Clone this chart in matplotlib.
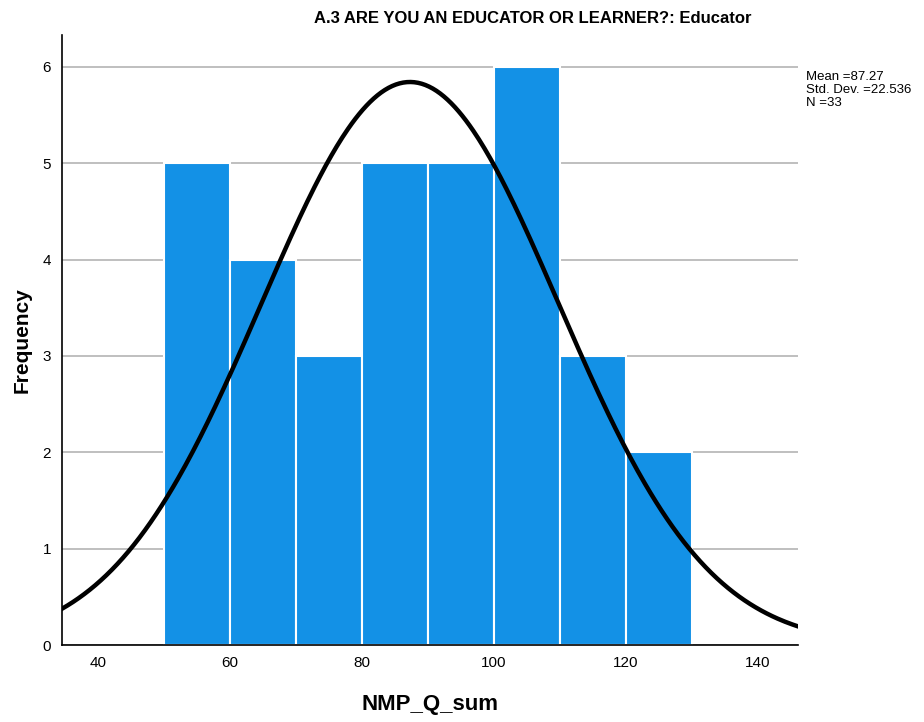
import numpy as np
import matplotlib.pyplot as plt

plt.rcParams['font.family'] = ['Liberation Sans', 'DejaVu Sans']

# histogram data
bin_edges = [50, 60, 70, 80, 90, 100, 110, 120, 130]
counts = [5, 4, 3, 5, 5, 6, 3, 2]
mean = 87.27
std = 22.536
n = 33
x_ticks = [40, 60, 80, 100, 120, 140]
y_ticks = [0, 1, 2, 3, 4, 5, 6]

fig = plt.figure(figsize=(9.24, 7.22), dpi=100)
ax = fig.add_axes([0.0671, 0.1066, 0.7965, 0.845])

ax.set_axisbelow(True)
ax.yaxis.grid(True, color='#b4b4b4', linewidth=1.2)
widths = np.diff(bin_edges)
ax.bar(bin_edges[:-1], counts, width=widths, align='edge', color='#1391e6',
       edgecolor='white', linewidth=1.5, zorder=2)

# normal curve scaled to counts
xs = np.linspace(34.5, 146.1, 400)
bw = 10
ys = n * bw / (std * np.sqrt(2 * np.pi)) * np.exp(-0.5 * ((xs - mean) / std) ** 2)
ax.plot(xs, ys, color='black', linewidth=3.2, zorder=3)

ax.set_xlim(34.5, 146.1)
ax.set_ylim(0, 6.33)
ax.set_xticks(x_ticks)
ax.set_yticks(y_ticks)
ax.tick_params(length=0, labelsize=11, pad=8)
for s in ['top', 'right']:
    ax.spines[s].set_visible(False)
ax.spines['left'].set_linewidth(1.2)
ax.spines['bottom'].set_linewidth(1.2)

ax.set_xlabel('NMP_Q_sum', fontsize=16, fontweight='bold', labelpad=17)
ax.set_ylabel('Frequency', fontsize=15, fontweight='bold', labelpad=8)

fig.text(0.577, 0.975, 'A.3 ARE YOU AN EDUCATOR OR LEARNER?: Educator',
         ha='center', va='center', fontsize=12, fontweight='bold')
fig.text(0.872, 0.902, f'Mean ={mean:.2f}\nStd. Dev. ={std:.3f}\nN ={n}',
         ha='left', va='top', fontsize=9.5, linespacing=1.1)

fig.savefig('out.png', dpi=100)
